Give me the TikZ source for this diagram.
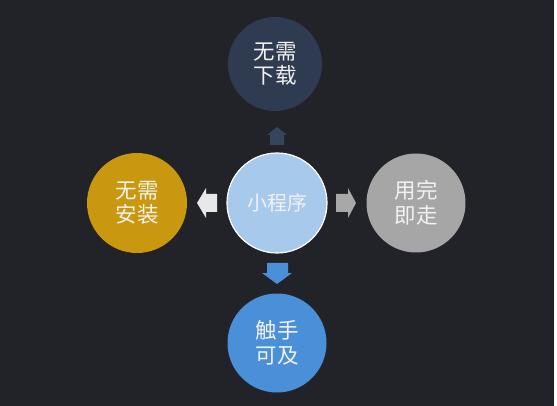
\documentclass[tikz,border=0pt]{standalone}
\usepackage{fontspec}
\newfontfamily\cjk{Noto Sans CJK SC}
\definecolor{bg}{HTML}{222328}
\definecolor{navy}{HTML}{2F3B50}
\definecolor{lightblue}{HTML}{A7C9EC}
\definecolor{gold}{HTML}{C9980E}
\definecolor{greyc}{HTML}{A6A6A6}
\definecolor{bluec}{HTML}{4A90D9}
\definecolor{txt}{HTML}{F2F2F2}
\definecolor{arrnavy}{HTML}{36445C}
\definecolor{arrwhite}{HTML}{E8E8E8}
\definecolor{arrgrey}{HTML}{A8A8A8}
\tikzset{
  bubble/.style={circle, minimum size=#1, inner sep=0pt, text=txt,
    font=\cjk\fontsize{21.5}{24.5}\selectfont, align=center},
}
\begin{document}
\begin{tikzpicture}[x=1pt,y=-1pt]
\fill[bg] (0,0) rectangle (557,406);
\fill[white] (554,0) rectangle (557,406);
\useasboundingbox (0,0) rectangle (557,406);
% nodes
\node[bubble=94pt, fill=navy] (down) at (275,64) {无需\\下载};
\node[bubble=100pt, fill=lightblue, draw=white, line width=1.2pt, font=\cjk\fontsize{20}{23}\selectfont] (mini) at (277,203) {小程序};
\node[bubble=100pt, fill=gold] (install) at (137,203) {无需\\安装};
\node[bubble=99pt, fill=greyc] (done) at (416,203) {用完\\即走};
\node[bubble=99pt, fill=bluec] (touch) at (277,343) {触手\\可及};
% block arrows
\fill[arrnavy] (277,127) -- (287,135) -- (284,135) -- (284,145) -- (270,145) -- (270,135) -- (267,135) -- cycle;
\fill[arrwhite] (197,203) -- (206,188) -- (206,194) -- (217,194) -- (217,212) -- (206,212) -- (206,218) -- cycle;
\fill[arrgrey] (356,203) -- (348,188) -- (348,194) -- (336,194) -- (336,212) -- (348,212) -- (348,218) -- cycle;
\fill[bluec] (277,284) -- (292,273) -- (288,273) -- (288,263) -- (267,263) -- (267,273) -- (262,273) -- cycle;
\end{tikzpicture}
\end{document}
